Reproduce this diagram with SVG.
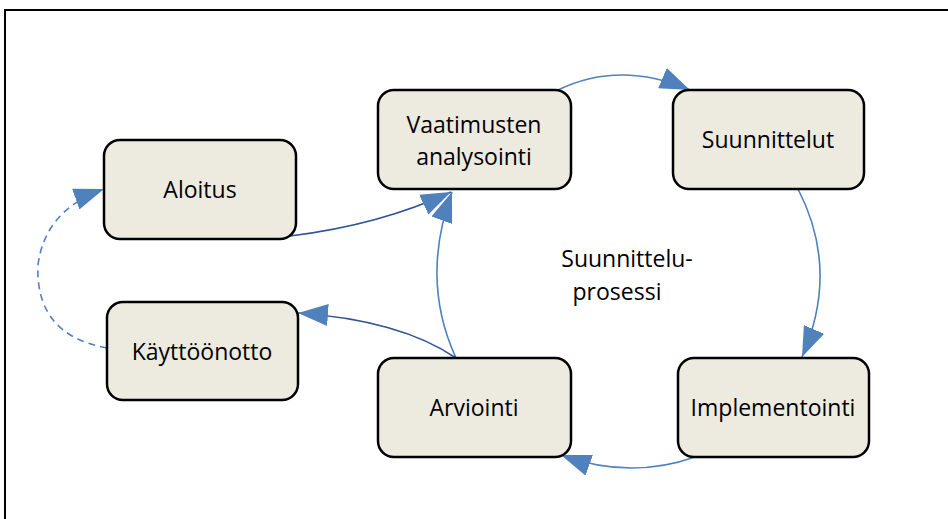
<svg xmlns="http://www.w3.org/2000/svg" width="948" height="519" viewBox="0 0 948 519">
<style>
.node rect{fill:#EDEBE0;stroke:#000;stroke-width:2.5}
.node text,.lbl{font-family:"Open Sans","Liberation Sans",sans-serif;font-size:23px;fill:#000;text-anchor:middle}
.c{fill:none;stroke:#4F81BD;stroke-width:1.6}
.d{fill:none;stroke:#2F5597;stroke-width:1.6}
</style>
<defs>
<marker id="ah" viewBox="0 0 10 10" refX="10" refY="5" markerWidth="30" markerHeight="22" markerUnits="userSpaceOnUse" orient="auto" preserveAspectRatio="none">
<path d="M0,0 L10,5 L0,10 z" fill="#4F81BD"/>
</marker>
</defs>
<rect x="5" y="10" width="960" height="520" fill="none" stroke="#000" stroke-width="2"/>
<g id="connectors">
<path class="c" d="M558,90 Q620,60 690,90" marker-end="url(#ah)"/>
<path class="c" d="M798,189 Q840,270 802,357" marker-end="url(#ah)"/>
<path class="c" d="M695,457 Q630,480 561,455" marker-end="url(#ah)"/>
<path class="c" d="M456,358 Q420,280 452,192" marker-end="url(#ah)"/>
<path class="d" d="M290,236 Q380,225 451,192" marker-end="url(#ah)"/>
<path class="d" d="M456,358 Q400,320 298,313" marker-end="url(#ah)"/>
<path class="c" d="M107,348 Q35,335 38,265 Q45,210 104,189" stroke-dasharray="7,5" marker-end="url(#ah)"/>
</g>
<g id="n-aloitus" class="node"><rect x="104" y="140" width="192" height="99" rx="16"/><text x="200" y="198">Aloitus</text></g>
<g id="n-kayttoonotto" class="node"><rect x="107" y="302" width="191" height="98" rx="16"/><text x="202" y="360">Käyttöönotto</text></g>
<g id="n-vaatimusten" class="node"><rect x="378" y="90" width="193" height="99" rx="16"/><text x="474" y="133">Vaatimusten</text><text x="474" y="165">analysointi</text></g>
<g id="n-suunnittelut" class="node"><rect x="673" y="90" width="191" height="99" rx="16"/><text x="768" y="148">Suunnittelut</text></g>
<g id="n-implementointi" class="node"><rect x="678" y="358" width="191" height="99" rx="16"/><text x="773" y="416">Implementointi</text></g>
<g id="n-arviointi" class="node"><rect x="378" y="358" width="193" height="99" rx="16"/><text x="474" y="416">Arviointi</text></g>
<text class="lbl" x="627" y="267">Suunnittelu-</text>
<text class="lbl" x="617" y="300">prosessi</text>
</svg>
